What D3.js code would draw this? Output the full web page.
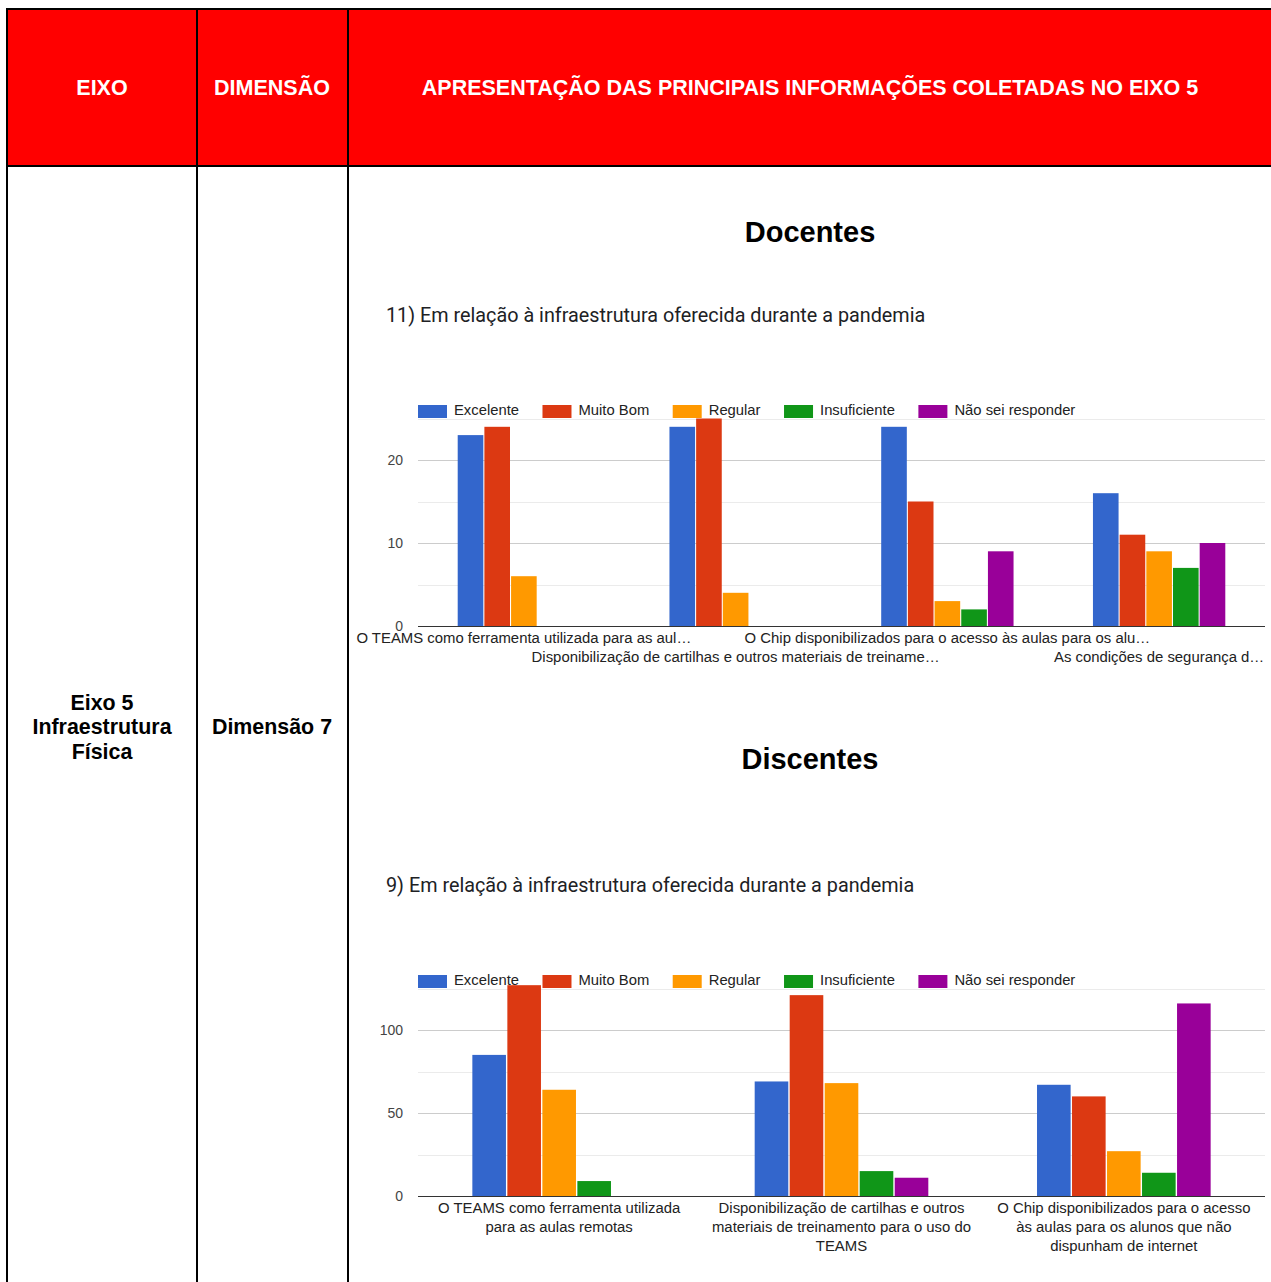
<!DOCTYPE html>
<html>
<head>
<meta charset="utf-8">
<script src="https://cdn.jsdelivr.net/npm/d3@7"></script>
<style>
  body { margin: 0; background: #fff; }
  svg { display: block; }
</style>
</head>
<body>
<div id="chart"></div>
<script>
let width = 1271, height = 1282;

// series names and colours (shared by both charts)
const series = ["Excelente", "Muito Bom", "Regular", "Insuficiente", "Não sei responder"];
const colors = ["#3366cc", "#dc3912", "#ff9900", "#109618", "#990099"];

// Docentes - question 11
const docCategories = [
  "O TEAMS como ferramenta utilizada para as aul…",
  "Disponibilização de cartilhas e outros materiais de treiname…",
  "O Chip disponibilizados para o acesso às aulas para os alu…",
  "As condições de segurança d…"
];
const docExcelente    = [23, 24, 24, 16];
const docMuitoBom     = [24, 25, 15, 11];
const docRegular      = [6, 4, 3, 9];
const docInsuficiente = [0, 0, 2, 7];
const docNaoSei       = [0, 0, 9, 10];
const docTickLabels = [0, 10, 20];
const docGridTicks  = [0, 5, 10, 15, 20, 25];

// Discentes - question 9
const disCategories = [
  ["O TEAMS como ferramenta utilizada", "para as aulas remotas"],
  ["Disponibilização de cartilhas e outros", "materiais de treinamento para o uso do", "TEAMS"],
  ["O Chip disponibilizados para o acesso", "às aulas para os alunos que não", "dispunham de internet"]
];
const disExcelente    = [85, 69, 67];
const disMuitoBom     = [127, 121, 60];
const disRegular      = [64, 68, 27];
const disInsuficiente = [9, 15, 14];
const disNaoSei       = [0, 11, 116];
const disTickLabels = [0, 50, 100];
const disGridTicks  = [0, 25, 50, 75, 100, 125];

const svg = d3.select("#chart")
    .append("svg")
    .attr("width", width)
    .attr("height", height);

// ---- table frame ----
const colX = [7, 197, 348, width + 2];
const headTop = 9, headBottom = 166;

svg.append("rect")
    .attr("x", colX[0]).attr("y", headTop)
    .attr("width", colX[3] - colX[0]).attr("height", headBottom - headTop)
    .attr("fill", "#ff0000");

const headers = ["EIXO", "DIMENSÃO", "APRESENTAÇÃO DAS PRINCIPAIS INFORMAÇÕES COLETADAS NO EIXO 5"];
const headCenters = [102, 272, 810];
headers.forEach((h, i) => {
    svg.append("text")
        .attr("x", headCenters[i]).attr("y", 89)
        .attr("text-anchor", "middle")
        .attr("dominant-baseline", "middle")
        .attr("font-family", "Liberation Sans, Arial, sans-serif")
        .attr("font-weight", "bold")
        .attr("font-size", "21.5px")
        .attr("fill", "#fff")
        .text(h);
});

// borders
const borderG = svg.append("g").attr("stroke", "#000").attr("stroke-width", 2);
borderG.append("line").attr("x1", colX[0] - 1).attr("x2", width).attr("y1", headTop).attr("y2", headTop);
borderG.append("line").attr("x1", colX[0] - 1).attr("x2", width).attr("y1", headBottom).attr("y2", headBottom);
colX.slice(0, 3).forEach(x => {
    borderG.append("line").attr("x1", x).attr("x2", x).attr("y1", headTop - 1).attr("y2", height);
});

// body cells
const eixoLines = ["Eixo 5", "Infraestrutura", "Física"];
eixoLines.forEach((t, i) => {
    svg.append("text")
        .attr("x", 102).attr("y", 704 + i * 24.5)
        .attr("text-anchor", "middle")
        .attr("dominant-baseline", "middle")
        .attr("font-family", "Liberation Sans, Arial, sans-serif")
        .attr("font-weight", "bold")
        .attr("font-size", "21.4px")
        .attr("fill", "#000")
        .text(t);
});
svg.append("text")
    .attr("x", 272).attr("y", 728.5)
    .attr("text-anchor", "middle")
    .attr("dominant-baseline", "middle")
    .attr("font-family", "Liberation Sans, Arial, sans-serif")
    .attr("font-weight", "bold")
    .attr("font-size", "21.4px")
    .attr("fill", "#000")
    .text("Dimensão 7");

// ---- chart drawing ----
function drawChart(opts) {
    const g = svg.append("g");
    const left = 418, right = 1265;

    // section title
    g.append("text")
        .attr("x", 810).attr("y", opts.titleY)
        .attr("text-anchor", "middle")
        .attr("dominant-baseline", "middle")
        .attr("font-family", "Liberation Sans, Arial, sans-serif")
        .attr("font-weight", "bold")
        .attr("font-size", "29px")
        .attr("fill", "#000")
        .text(opts.title);

    // question
    g.append("text")
        .attr("x", 386).attr("y", opts.questionY)
        .attr("dominant-baseline", "middle")
        .attr("font-family", "Roboto, sans-serif")
        .attr("font-size", "19.8px")
        .attr("fill", "#202124")
        .text(opts.question);

    const x0 = d3.scaleBand()
        .domain(d3.range(opts.categories.length))
        .range([left, right])
        .paddingInner(opts.pad)
        .paddingOuter(opts.pad / 2);

    const x1 = d3.scaleBand()
        .domain(d3.range(series.length))
        .range([0, x0.bandwidth()])
        .paddingInner(0.04);

    const y = d3.scaleLinear()
        .domain([0, opts.max])
        .range([opts.bottom, opts.top]);

    // gridlines
    g.selectAll(".grid")
        .data(opts.grid)
        .enter()
        .append("line")
        .attr("x1", left).attr("x2", right)
        .attr("y1", d => Math.round(y(d)) + 0.5)
        .attr("y2", d => Math.round(y(d)) + 0.5)
        .attr("stroke", d => opts.ticks.includes(d) ? "#cccccc" : "#ebebeb")
        .attr("stroke-width", 1);

    // y labels
    const yAxis = d3.axisLeft(y)
        .tickValues(opts.ticks)
        .tickSize(0)
        .tickPadding(0);
    const ax = g.append("g")
        .attr("transform", "translate(403,0)")
        .call(yAxis);
    ax.select(".domain").remove();
    ax.selectAll("text")
        .attr("font-family", "Liberation Sans, Arial, sans-serif")
        .attr("font-size", "14px")
        .attr("fill", "#444");

    // bars, one group per category, zero values skipped
    const groups = g.selectAll(".cat")
        .data(opts.values[0].map((_, i) => opts.values.map((s, j) => ({ v: s[i], j: j }))))
        .enter()
        .append("g")
        .attr("class", "cat")
        .attr("transform", (d, i) => "translate(" + x0(i) + ",0)");

    groups.selectAll("rect")
        .data(d => d.filter(e => e.v > 0))
        .enter()
        .append("rect")
        .attr("x", d => x1(d.j))
        .attr("width", x1.bandwidth())
        .attr("y", d => y(d.v))
        .attr("height", d => y(0) - y(d.v))
        .attr("fill", d => colors[d.j]);

    // baseline
    g.append("line")
        .attr("x1", left).attr("x2", right)
        .attr("y1", opts.bottom + 0.5).attr("y2", opts.bottom + 0.5)
        .attr("stroke", "#333").attr("stroke-width", 1);

    // category labels
    opts.categories.forEach((c, i) => {
        const cx = x0(i) + x0.bandwidth() / 2;
        const lines = Array.isArray(c) ? c : [c];
        const rowOffset = opts.stagger ? (i % 2) * 19 : 0;
        lines.forEach((ln, k) => {
            g.append("text")
                .attr("x", cx)
                .attr("y", opts.bottom + 13 + rowOffset + k * 19)
                .attr("text-anchor", "middle")
                .attr("dominant-baseline", "middle")
                .attr("font-family", "Liberation Sans, Arial, sans-serif")
                .attr("font-size", "14.9px")
                .attr("fill", "#222")
                .text(ln);
        });
    });

    // legend
    let lx = left;
    const ly = opts.legendY;
    series.forEach((s, i) => {
        g.append("rect")
            .attr("x", lx).attr("y", ly - 6)
            .attr("width", 29).attr("height", 13)
            .attr("fill", colors[i]);
        const t = g.append("text")
            .attr("x", lx + 36).attr("y", ly)
            .attr("dominant-baseline", "middle")
            .attr("font-family", "Liberation Sans, Arial, sans-serif")
            .attr("font-size", "14.8px")
            .attr("fill", "#222")
            .text(s);
        lx += 36 + t.node().getComputedTextLength() + 23.5;
    });
}

drawChart({
    title: "Docentes",
    titleY: 234,
    question: "11) Em relação à infraestrutura oferecida durante a pandemia",
    questionY: 317,
    legendY: 411,
    categories: docCategories,
    values: [docExcelente, docMuitoBom, docRegular, docInsuficiente, docNaoSei],
    ticks: docTickLabels,
    grid: docGridTicks,
    max: 25,
    bottom: 626,
    top: 418.5,
    pad: 0.375,
    stagger: true
});

drawChart({
    title: "Discentes",
    titleY: 761,
    question: "9) Em relação à infraestrutura oferecida durante a pandemia",
    questionY: 887,
    legendY: 981,
    categories: disCategories,
    values: [disExcelente, disMuitoBom, disRegular, disInsuficiente, disNaoSei],
    ticks: disTickLabels,
    grid: disGridTicks,
    max: 125,
    bottom: 1196,
    top: 988.5,
    pad: 0.385,
    stagger: false
});
</script>
</body>
</html>
